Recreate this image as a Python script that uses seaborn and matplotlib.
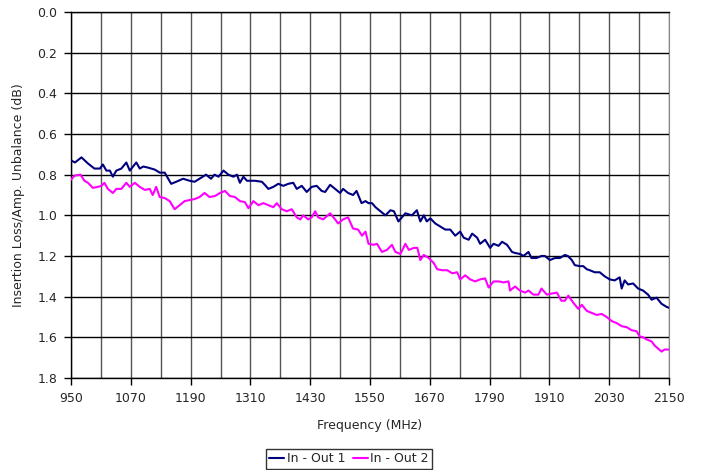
import numpy as np
import pandas as pd
import matplotlib
matplotlib.use("Agg")
import matplotlib.pyplot as plt
import seaborn as sns

# --- data ---
freq1 = [950, 958, 971, 984, 997, 1008, 1014, 1021, 1028, 1034, 1041, 1051, 1061, 1068, 1081,
         1088, 1095, 1104, 1118, 1128, 1138, 1151, 1161, 1175, 1188, 1198, 1208, 1221, 1231, 1238,
         1246, 1256, 1266, 1276, 1283, 1289, 1296, 1303, 1309, 1319, 1333, 1339, 1346, 1356, 1366,
         1376, 1386, 1396, 1403, 1413, 1423, 1433, 1443, 1453, 1460, 1470, 1480, 1490, 1496, 1506,
         1516, 1523, 1533, 1541, 1547, 1554, 1561, 1571, 1581, 1591, 1598, 1607, 1621, 1634, 1644,
         1651, 1658, 1664, 1671, 1681, 1691, 1701, 1711, 1721, 1731, 1738, 1748, 1755, 1765, 1771,
         1781, 1791, 1798, 1808, 1815, 1825, 1835, 1841, 1851, 1858, 1868, 1874, 1884, 1894, 1901,
         1911, 1921, 1931, 1941, 1947, 1955, 1961, 1971, 1978, 1985, 1991, 2001, 2011, 2021, 2031,
         2041, 2051, 2055, 2061, 2068, 2078, 2088, 2098, 2108, 2115, 2125, 2135, 2145, 2150]
loss1 = [0.73, 0.74, 0.715, 0.745, 0.77, 0.77, 0.75, 0.78, 0.78, 0.81, 0.78, 0.77, 0.74, 0.78, 0.74,
         0.77, 0.76, 0.765, 0.775, 0.79, 0.79, 0.845, 0.835, 0.82, 0.83, 0.835, 0.82, 0.80, 0.82, 0.80,
         0.81, 0.78, 0.80, 0.81, 0.80, 0.84, 0.81, 0.83, 0.83, 0.83, 0.835, 0.85, 0.87, 0.86, 0.845,
         0.855, 0.845, 0.84, 0.87, 0.855, 0.885, 0.86, 0.855, 0.88, 0.885, 0.85, 0.87, 0.89, 0.87, 0.89,
         0.90, 0.88, 0.94, 0.93, 0.94, 0.94, 0.96, 0.98, 1.00, 0.975, 0.98, 1.03, 0.99, 1.00, 0.975,
         1.03, 1.00, 1.03, 1.015, 1.04, 1.055, 1.07, 1.07, 1.10, 1.08, 1.11, 1.12, 1.09, 1.11, 1.14,
         1.12, 1.16, 1.14, 1.15, 1.13, 1.145, 1.18, 1.185, 1.19, 1.20, 1.18, 1.21, 1.21, 1.20, 1.20,
         1.22, 1.21, 1.21, 1.195, 1.20, 1.22, 1.245, 1.25, 1.25, 1.265, 1.27, 1.28, 1.28, 1.30, 1.315,
         1.32, 1.305, 1.36, 1.32, 1.34, 1.335, 1.36, 1.37, 1.39, 1.415, 1.405, 1.435, 1.45, 1.455]

freq2 = [950, 957, 969, 977, 984, 994, 1004, 1011, 1017, 1024, 1034, 1041, 1051, 1061, 1068,
         1078, 1088, 1098, 1108, 1114, 1121, 1128, 1138, 1148, 1158, 1168, 1178, 1188, 1198, 1208,
         1218, 1228, 1239, 1249, 1259, 1269, 1279, 1289, 1299, 1306, 1316, 1326, 1336, 1346, 1356,
         1363, 1373, 1383, 1393, 1403, 1410, 1416, 1426, 1433, 1440, 1446, 1456, 1470, 1480, 1486,
         1496, 1506, 1516, 1526, 1534, 1541, 1547, 1557, 1564, 1574, 1584, 1594, 1601, 1611, 1621,
         1628, 1638, 1645, 1651, 1658, 1668, 1678, 1685, 1695, 1705, 1715, 1725, 1731, 1741, 1751,
         1761, 1771, 1781, 1788, 1798, 1808, 1818, 1828, 1831, 1841, 1851, 1861, 1868, 1878, 1888,
         1894, 1905, 1914, 1925, 1934, 1941, 1948, 1958, 1968, 1975, 1985, 1995, 2005, 2015, 2025,
         2035, 2045, 2055, 2065, 2075, 2085, 2091, 2098, 2105, 2115, 2121, 2128, 2135, 2141, 2150]
loss2 = [0.825, 0.805, 0.80, 0.83, 0.84, 0.865, 0.86, 0.855, 0.84, 0.87, 0.89, 0.87, 0.87, 0.84, 0.86,
         0.84, 0.86, 0.875, 0.87, 0.90, 0.86, 0.91, 0.915, 0.93, 0.97, 0.95, 0.93, 0.925, 0.92, 0.91,
         0.89, 0.91, 0.905, 0.89, 0.88, 0.905, 0.91, 0.93, 0.935, 0.965, 0.93, 0.95, 0.94, 0.95, 0.96,
         0.94, 0.97, 0.98, 0.97, 1.01, 1.02, 1.00, 1.02, 1.01, 0.98, 1.01, 1.02, 0.99, 1.02, 1.04,
         1.02, 1.01, 1.065, 1.07, 1.10, 1.08, 1.14, 1.145, 1.14, 1.18, 1.17, 1.145, 1.18, 1.19, 1.14,
         1.17, 1.16, 1.16, 1.22, 1.195, 1.21, 1.235, 1.265, 1.27, 1.27, 1.285, 1.28, 1.315, 1.295, 1.315,
         1.325, 1.315, 1.31, 1.355, 1.325, 1.325, 1.33, 1.325, 1.37, 1.35, 1.37, 1.38, 1.37, 1.39, 1.39,
         1.36, 1.39, 1.385, 1.38, 1.42, 1.42, 1.395, 1.43, 1.46, 1.44, 1.47, 1.48, 1.49, 1.485, 1.50,
         1.52, 1.53, 1.545, 1.55, 1.565, 1.57, 1.595, 1.60, 1.61, 1.62, 1.64, 1.655, 1.67, 1.66, 1.66]

series_names = ["In - Out 1", "In - Out 2"]
colors = ["#000080", "#FF00FF"]
x_ticks = list(range(950, 2151, 120))
y_ticks = [0.0, 0.2, 0.4, 0.6, 0.8, 1.0, 1.2, 1.4, 1.6, 1.8]

df = pd.concat([
    pd.DataFrame({"freq": freq1, "loss": loss1, "series": series_names[0]}),
    pd.DataFrame({"freq": freq2, "loss": loss2, "series": series_names[1]}),
])

# --- plot ---
sns.set_style("white")
plt.rcParams["font.family"] = ["DejaVu Sans"]

fig = plt.figure(figsize=(7.01, 4.70), dpi=100)
ax = fig.add_axes([71 / 701, 1 - 378 / 470, (669 - 71) / 701, (378 - 12) / 470])

sns.lineplot(data=df, x="freq", y="loss", hue="series", palette=colors,
             sort=False, estimator=None, linewidth=1.5, ax=ax, zorder=3)

ax.set_xlim(950, 2150)
ax.set_ylim(1.8, 0.0)
ax.set_xticks(x_ticks)
ax.set_xticks(list(range(950, 2151, 60)), minor=True)
ax.set_yticks(y_ticks)
ax.set_yticklabels([f"{v:.1f}" for v in y_ticks])

ax.grid(True, which="major", axis="y", color="black", linewidth=1.0, zorder=0)
ax.grid(True, which="both", axis="x", color="#555555", linewidth=1.0, zorder=0)
ax.set_axisbelow(True)

for side in ["left", "bottom", "top"]:
    ax.spines[side].set_color("black")
    ax.spines[side].set_linewidth(1.0)
ax.spines["right"].set_color("#888888")

ax.tick_params(axis="both", which="major", direction="out", length=5, width=1,
               labelsize=9, color="black", left=True, bottom=True, pad=5)
ax.tick_params(axis="x", which="minor", length=0)

ax.set_xlabel("Frequency (MHz)", fontsize=9, labelpad=10)
ax.set_ylabel("Insertion Loss/Amp. Unbalance (dB)", fontsize=9, labelpad=9)

handles, labels = ax.get_legend_handles_labels()
ax.get_legend().remove()
leg = fig.legend(handles, labels, loc="center", bbox_to_anchor=(349 / 701, 1 - 459 / 470),
                 ncol=2, fontsize=9, frameon=True, fancybox=False, handlelength=1.2,
                 handletextpad=0.2, columnspacing=0.6, borderpad=0.25, borderaxespad=0)
leg.get_frame().set_edgecolor("black")
leg.get_frame().set_linewidth(1.0)

fig.savefig("out.png", dpi=100)
